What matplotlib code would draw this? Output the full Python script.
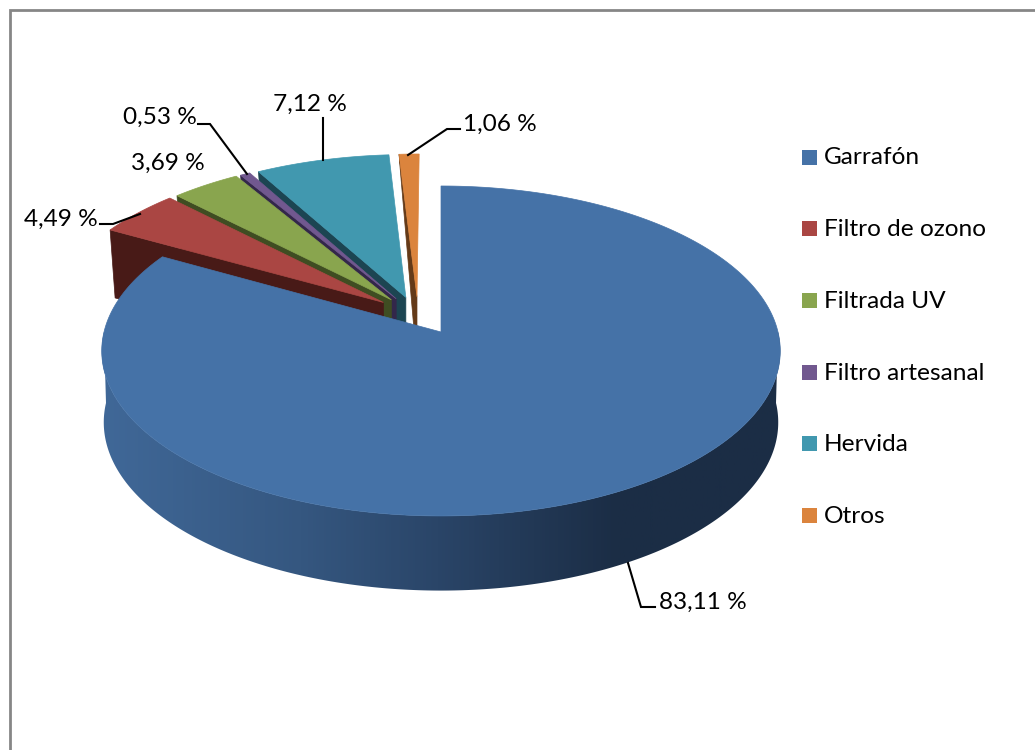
import matplotlib
matplotlib.use("Agg")
import matplotlib.pyplot as plt
from matplotlib.colors import LinearSegmentedColormap
from matplotlib.patches import Polygon, Rectangle
import numpy as np

# data
categories = ["Garrafón", "Filtro de ozono", "Filtrada UV", "Filtro artesanal", "Hervida", "Otros"]
values = [83.11, 4.49, 3.69, 0.53, 7.12, 1.06]

# styles
top_colors = ["#4572A7", "#AA4643", "#89A54E", "#71588F", "#4198AF", "#DB843D"]
side_colors = ["#1B2D45", "#481A17", "#3F4D22", "#33274A", "#1C4552", "#643A18"]

plt.rcParams['font.family'] = ['Lato', 'DejaVu Sans']
FS = 17.6

# pie geometry in pixels, a plain perspective of a disc
CX, CY = 441, 332
A, B, W = 337.0, 162.8, 0.115
A2, B2, CY2 = 335.0, 166.0, 403


def project(t, a=A, b=B, cy=CY):
    u, v = np.sin(t), np.cos(t)
    k = 1 + W * v
    return CX + a * u / k, cy - b * v / k


fig = plt.figure(figsize=(10.35, 7.5), dpi=100)
ax = fig.add_axes([0, 0, 1, 1])

# chart frame, it runs off the picture right and below
ax.plot([10, 10, 1040], [755, 10, 10], color="#868686", lw=2, solid_joinstyle='miter')

edges = np.radians(np.concatenate([[0], np.cumsum(values)]) * 3.6)


def draw_slice(i):
    t0, t1 = edges[i], edges[i + 1]
    m = (t0 + t1) / 2
    dx = -20.5 + 40 * np.sin(m)
    dy = -19 - 13 * np.cos(m)
    ts = np.linspace(t0, t1, 30)
    x, y = project(ts)
    x, y = x + dx, y + dy
    apex = (CX + dx * 1.1, CY + dy * 1.1)

    # cut face, short at the far end when seen nearly edge on
    far_d = 68 * min(1, abs(np.sin(t0)) / 0.5)
    face = [apex, (x[0], y[0]), (x[0] + 5 * (far_d / 68), y[0] + far_d), (apex[0], apex[1] + 68)]
    ax.add_patch(Polygon(face, closed=True, fc=side_colors[i], ec=side_colors[i], lw=0.5))

    pts = [apex] + list(zip(x, y))
    ax.add_patch(Polygon(pts, closed=True, fc=top_colors[i], ec=top_colors[i], lw=0.5))


# back slices first, the big one covers them
for i in [5, 4, 3, 2, 1]:
    draw_slice(i)

# rim of the big slice with its shading, only the front half shows
ts = np.radians(np.linspace(90, 270, 400))
x1, y1 = project(ts)
x2, y2 = project(ts[::-1], A2, B2, CY2)
rim = Polygon(list(zip(x1, y1)) + list(zip(x2, y2)), closed=True, transform=ax.transData, fc='none', ec='none')
ax.add_patch(rim)
rim_cmap = LinearSegmentedColormap.from_list("rim", [(0, "#406898"), (0.29, "#355780"), (0.49, "#2A4568"), (0.75, "#1B2D45"), (1, "#1B2D45")])
grad = np.linspace(0, 1, 700).reshape(1, -1)
im = ax.imshow(grad, cmap=rim_cmap, extent=(100, 790, 600, 180), aspect='auto', interpolation='bilinear', zorder=1)
im.set_clip_path(rim)

x, y = project(np.linspace(edges[0], edges[1], 400))
ax.add_patch(Polygon([(CX, CY)] + list(zip(x, y)), closed=True, fc=top_colors[0], ec=top_colors[0], lw=0.5, zorder=2))

# data labels and leaders
label_pos = [(659, 602), (24, 219), (131, 163), (123, 117), (273, 104), (463, 124)]
leaders = [
    [(628, 563), (641, 607), (655, 607)],
    [(100, 224), (113, 224), (140, 214)],
    None,
    [(198, 124), (210, 124), (247, 174)],
    [(323, 118), (323, 160)],
    [(408, 155), (447, 129), (460, 129)],
]
for i, v in enumerate(values):
    s = f"{v:.2f} %".replace(".", ",")
    ax.text(label_pos[i][0], label_pos[i][1], s, fontsize=FS, color="black", va='center', ha='left', zorder=4)
    if leaders[i]:
        ax.plot(*zip(*leaders[i]), color="black", lw=1.5, solid_joinstyle='miter', zorder=3)

# legend
for i, name in enumerate(categories):
    yc = 157 + i * 71.7
    ax.add_patch(Rectangle((802, yc - 7.5), 15, 15, fc=top_colors[i], ec='none'))
    ax.text(824, yc + 1, name, fontsize=FS, color="black", va='center', ha='left')

ax.set_xlim(0, 1035)
ax.set_ylim(750, 0)
ax.axis('off')

plt.savefig('out.png', dpi=100)
